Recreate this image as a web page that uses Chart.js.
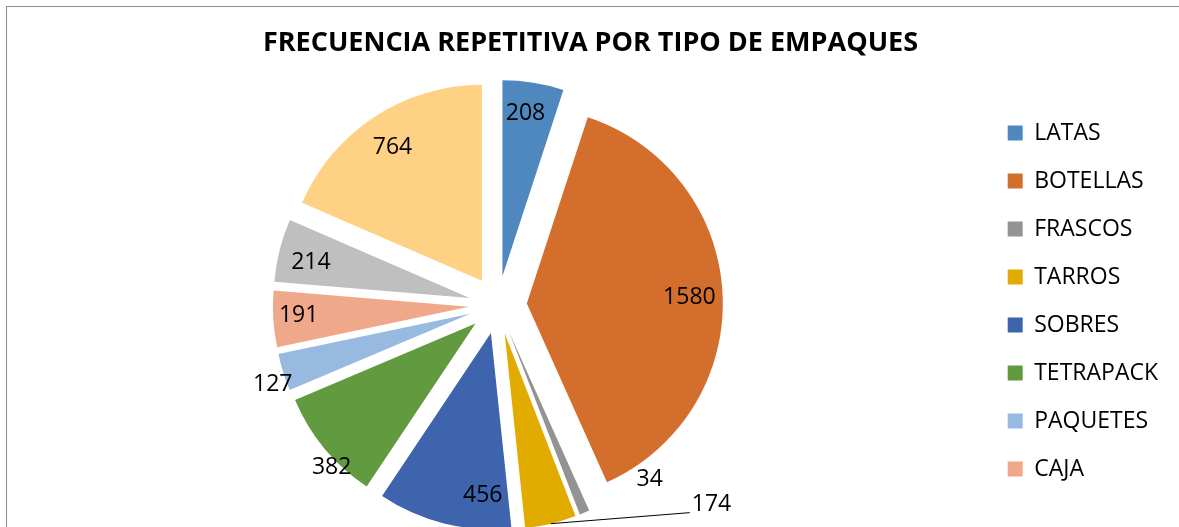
<!DOCTYPE html>
<html>
<head>
<meta charset="utf-8">
<script src="https://cdn.jsdelivr.net/npm/chart.js@4.4.1/dist/chart.umd.min.js"></script>
<style>
  html, body { margin: 0; padding: 0; background: #fff; overflow: hidden; }
  .marco { position: absolute; left: 6px; top: 6px; width: 1200px; height: 600px; border: 1px solid #8c8c8c; }
  canvas { display: block; }
</style>
</head>
<body>
<div class="marco"><canvas id="grafico" width="1176" height="540"></canvas></div>
<script>
/* Frecuencia repetitiva por tipo de empaques - pastel separado */

const categorias = ['LATAS', 'BOTELLAS', 'FRASCOS', 'TARROS', 'SOBRES', 'TETRAPACK', 'PAQUETES', 'CAJA', '', ''];
const frecuencias = [208, 1580, 34, 174, 456, 382, 127, 191, 214, 764];
const colores = ['#4f88bf', '#d46e2c', '#939393', '#e2ab00', '#3d64ad', '#619a3f', '#99bae0', '#f0a88a', '#bfbfbf', '#ffd185'];

// giro (grados) y radio relativo de cada etiqueta, parecido a "mejor ajuste" de Excel
const posEtiquetas = [[-1, 0.84], [1, 0.83], [-21, 1.04], null, [-11, 0.83], [-5.5, 1.04], [-2.3, 1.07], [0.6, 0.87], [-1.5, 0.83], [-0.5, 0.82]];

const FUENTE = "'Open Sans', 'Noto Sans', sans-serif";

// dibuja cada porcion desplazada hacia afuera (como la explosion de Excel)
const porcionesSeparadas = {
    id: 'porcionesSeparadas',
    beforeDatasetDraw(chart, args, opts) {
        const ctx = chart.ctx;
        const d = opts.distancia;
        args.meta.data.forEach(arc => {
            const { x, y, startAngle, endAngle, outerRadius } = arc;
            const medio = (startAngle + endAngle) / 2;
            ctx.save();
            ctx.translate(Math.cos(medio) * d, Math.sin(medio) * d);
            ctx.beginPath();
            ctx.moveTo(x, y);
            ctx.arc(x, y, outerRadius, startAngle, endAngle);
            ctx.closePath();
            ctx.fillStyle = arc.options.backgroundColor;
            ctx.fill();
            ctx.restore();
        });
        return false;
    }
};

const etiquetasValores = {
    id: 'etiquetasValores',
    afterDatasetsDraw(chart, args, opts) {
        const ctx = chart.ctx;
        const d = chart.options.plugins.porcionesSeparadas.distancia;
        const meta = chart.getDatasetMeta(0);
        ctx.save();
        ctx.font = '23px ' + FUENTE;
        ctx.fillStyle = '#000';
        ctx.textBaseline = 'middle';
        meta.data.forEach((arc, i) => {
            const { x, y, startAngle, endAngle, outerRadius } = arc;
            const medio = (startAngle + endAngle) / 2;
            const ox = x + Math.cos(medio) * d;
            const oy = y + Math.sin(medio) * d;
            const texto = String(frecuencias[i]);
            const llamada = opts.llamadas[i];
            if (llamada) {
                const ax = ox + Math.cos(medio) * outerRadius;
                const ay = oy + Math.sin(medio) * outerRadius;
                const bx = ax + llamada[0], by = ay + llamada[1];
                ctx.strokeStyle = '#000';
                ctx.lineWidth = 1;
                ctx.beginPath();
                ctx.moveTo(ax, ay);
                ctx.lineTo(bx, by);
                ctx.stroke();
                ctx.textAlign = 'left';
                ctx.fillText(texto, bx + 2, by - 8);
                return;
            }
            const [giro, f] = posEtiquetas[i];
            const ang = medio + giro * Math.PI / 180;
            ctx.textAlign = 'center';
            ctx.fillText(texto, ox + Math.cos(ang) * outerRadius * f, oy + Math.sin(ang) * outerRadius * f);
        });
        ctx.restore();
    }
};

new Chart(document.getElementById('grafico'), {
    type: 'pie',
    data: {
        labels: categorias,
        datasets: [{
            data: frecuencias,
            backgroundColor: colores,
            borderWidth: 0,
            radius: 196
        }]
    },
    options: {
        responsive: false,
        animation: false,
        layout: { padding: { left: 6, right: 15, top: 0, bottom: 41.5 } },
        plugins: {
            title: {
                display: true,
                text: 'FRECUENCIA REPETITIVA POR TIPO DE EMPAQUES',
                color: '#000',
                font: { family: FUENTE, size: 27, weight: 'bold' },
                padding: { top: 20, bottom: 45 }
            },
            legend: {
                position: 'right',
                align: 'end',
                labels: {
                    color: '#000',
                    font: { family: FUENTE, size: 23 },
                    boxWidth: 15,
                    boxHeight: 15,
                    padding: 25,
                    filter: item => item.text !== ''
                }
            },
            tooltip: { enabled: false },
            porcionesSeparadas: { distancia: 29 },
            etiquetasValores: { llamadas: { 3: [139, -11] } }
        }
    },
    plugins: [porcionesSeparadas, etiquetasValores]
});
</script>
</body>
</html>
